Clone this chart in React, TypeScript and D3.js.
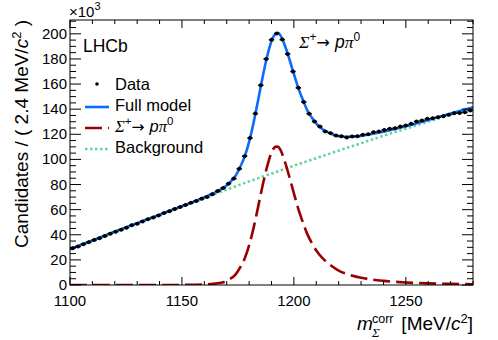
import * as d3 from 'd3';

// histogram: 75 bins of 2.4 MeV from 1100 to 1280, values in units of 10^3
const massMin = 1100;
const massMax = 1280;
const binWidth = 2.4;
const dataCounts = [
  29.2, 30.6, 32.5, 34.0, 35.8, 37.2, 39.0, 40.9, 42.4, 43.9, 45.6, 47.5, 48.8,
  50.6, 52.4, 53.8, 55.4, 57.3, 58.7, 60.6, 62.2, 63.6, 65.4, 66.9, 68.6,
  70.0, 72.2, 74.8, 77.2, 80.7, 84.7, 92.6, 102.6, 117.0, 136.5, 159.0, 180.0,
  195.2, 200.3, 195.4, 184.0, 170.0, 157.0, 145.8, 136.4, 130.2, 126.2, 122.2,
  120.9, 119.0, 118.5, 117.5, 118.3, 118.5, 119.6, 120.1, 121.7, 122.2, 123.5,
  124.4, 124.9, 126.2, 127.0, 128.3, 130.2, 131.0, 132.3, 132.8, 133.6, 134.4,
  135.5, 136.8, 137.0, 137.5, 138.9,
];

// fit model curves, sampled at these masses
const modelMass = [
  1100, 1110, 1120, 1130, 1140, 1150, 1155, 1160, 1164, 1168, 1171, 1174, 1176,
  1178, 1180, 1182, 1184, 1186, 1188, 1190, 1191, 1192, 1193, 1194, 1196, 1198,
  1200, 1202, 1204, 1206, 1208, 1210, 1213, 1216, 1220, 1225, 1230, 1240, 1250,
  1260, 1270, 1280,
];
const fullModel = [
  28.5, 35.5, 42.5, 49.25, 56.0, 62.75, 66.2, 69.9, 73.1, 76.7, 80.95, 87.1,
  93.9, 102.2, 114.0, 129.25, 147.0, 165.25, 181.5, 194.25, 198.2, 200.2, 200.6,
  198.75, 190.5, 179.75, 168.0, 156.7, 147.4, 139.1, 133.3, 128.5, 123.8, 120.9,
  118.5, 118.0, 118.7, 122.1, 126.5, 131.4, 136.5, 141.6,
];
const signalModel = [
  0, 0, 0, 0, 0, 0.05, 0.15, 0.4, 1.0, 2.0, 4.3, 8.5, 14.0, 21.0, 31.5, 45.5,
  62.0, 79.0, 94.0, 105.5, 108.8, 110.2, 110.0, 107.5, 98.0, 86.0, 73.0, 60.5,
  50.0, 40.5, 33.5, 27.5, 21.0, 16.3, 11.5, 8.0, 5.8, 3.3, 2.0, 1.3, 0.9, 0.6,
];
const backgroundModel = [
  28.5, 35.5, 42.5, 49.25, 56.0, 62.75, 66.1, 69.5, 72.1, 74.7, 76.65, 78.6,
  79.9, 81.2, 82.5, 83.75, 85.0, 86.25, 87.5, 88.75, 89.4, 90.0, 90.6, 91.25,
  92.5, 93.75, 95.0, 96.2, 97.4, 98.6, 99.8, 101.0, 102.8, 104.6, 107.0, 110.0,
  112.9, 118.8, 124.5, 130.1, 135.6, 141.0,
];

const xMajorTicks = [1100, 1150, 1200, 1250];
const yMajorTicks = [0, 20, 40, 60, 80, 100, 120, 140, 160, 180, 200];

const W = 498;
const H = 340;
const margin = { top: 20, right: 25, bottom: 55, left: 70 };
const sans = '"Liberation Sans", Arial, Helvetica, sans-serif';
const serif = '"Liberation Serif", "Times New Roman", serif';

const blue = '#0a6cff';
const red = '#990000';
const green = '#66d49c';

export default function App() {
  const x = d3.scaleLinear().domain([massMin, massMax]).range([margin.left, W - margin.right]);
  const y = d3.scaleLinear().domain([0, 211]).range([H - margin.bottom, margin.top]);
  const x0 = x.range()[0], x1 = x.range()[1];
  const y0 = y.range()[0], y1 = y.range()[1];

  const line = (vals: number[]) =>
    d3.line<number>()
      .x((_, i) => x(modelMass[i]))
      .y(d => y(d))
      .curve(d3.curveMonotoneX)(vals) || '';

  const xMinor = d3.range(massMin, massMax + 0.1, 10);
  const yMinor = d3.range(0, 211, 5);

  const points = dataCounts.map((v, i) => ({ m: massMin + (i + 0.5) * binWidth, v }));

  return (
    <svg width={W} height={H} style={{ position: 'absolute', left: 0, top: 0, background: '#fff' }}
      fontFamily={sans}>
      <defs>
        <clipPath id="plot-clip">
          <rect x={x0} y={y1} width={x1 - x0} height={y0 - y1} />
        </clipPath>
      </defs>

      {/* curves */}
      <g clipPath="url(#plot-clip)" fill="none">
        <path d={line(backgroundModel)} stroke={green} strokeWidth={2.6} strokeDasharray="2.5,2.5" />
        <path d={line(signalModel)} stroke={red} strokeWidth={2.6} strokeDasharray="17,6" />
        <path d={line(fullModel)} stroke={blue} strokeWidth={2.6} />
      </g>

      {/* data points */}
      <g>
        {points.map((p, i) => (
          <g key={i}>
            <line x1={x(p.m - binWidth / 2)} x2={x(p.m + binWidth / 2)} y1={y(p.v)} y2={y(p.v)}
              stroke="#000" strokeWidth={1.6} />
            <line x1={x(p.m)} x2={x(p.m)} y1={y(p.v) - 1.5} y2={y(p.v) + 1.5}
              stroke="#000" strokeWidth={1.2} />
            <circle cx={x(p.m)} cy={y(p.v)} r={2} fill="#000" />
          </g>
        ))}
      </g>

      {/* frame */}
      <rect x={x0} y={y1} width={x1 - x0} height={y0 - y1} fill="none" stroke="#000" strokeWidth={1} />

      {/* x ticks, bottom and top; y ticks, left and right */}
      <g stroke="#000" strokeWidth={1}>
        {xMinor.map(t => {
          const major = xMajorTicks.includes(t);
          const len = major ? 8 : 4;
          return (
            <g key={'x' + t}>
              <line x1={x(t)} x2={x(t)} y1={y0} y2={y0 - len} />
              <line x1={x(t)} x2={x(t)} y1={y1} y2={y1 + len} />
            </g>
          );
        })}
        {yMinor.map(t => {
          const major = t % 20 === 0;
          const len = major ? 11 : 6;
          return (
            <g key={'y' + t}>
              <line x1={x0} x2={x0 + len} y1={y(t)} y2={y(t)} />
              <line x1={x1} x2={x1 - len} y1={y(t)} y2={y(t)} />
            </g>
          );
        })}
      </g>

      {/* tick labels */}
      <g fontSize={15} fill="#000">
        {xMajorTicks.map(t => (
          <text key={t} x={x(t)} y={y0 + 21} textAnchor="middle">{t}</text>
        ))}
        {yMajorTicks.map(t => (
          <text key={t} x={x0 - 3} y={y(t) + 5} textAnchor="end">{t}</text>
        ))}
      </g>

      {/* exponent */}
      <text x={69} y={17} fontSize={15}>
        ×10<tspan fontSize={11} dy={-7}>3</tspan>
      </text>

      {/* axis titles */}
      <text transform={`translate(28, ${y1}) rotate(-90)`} textAnchor="end" fontSize={19}>
        Candidates / ( 2.4 MeV/<tspan fontStyle="italic">c</tspan>
        <tspan fontSize={13} dy={-7}>2</tspan><tspan dy={7}> )</tspan>
      </text>
      <text x={357} y={330} fontSize={19} fontStyle="italic">m</text>
      <text x={372} y={323} fontSize={12.5}>corr</text>
      <text x={372} y={337} fontSize={13} fontStyle="italic" fontFamily={serif}>Σ</text>
      <text x={473} y={330} fontSize={19} textAnchor="end">
        [MeV/<tspan fontStyle="italic">c</tspan><tspan fontSize={13} dy={-7}>2</tspan><tspan dy={7}>]</tspan>
      </text>

      {/* LHCb label */}
      <text x={83} y={52} fontSize={17.5}>LHCb</text>

      {/* decay annotation */}
      <text x={299} y={48} fontSize={17.5}>
        <tspan fontFamily={serif} fontStyle="italic">Σ</tspan>
        <tspan fontSize={12} dy={-7}>+</tspan>
        <tspan dy={7} fontFamily='"DejaVu Sans", sans-serif' fontSize={16}>→ </tspan>
        <tspan fontStyle="italic">p</tspan>
        <tspan fontFamily={serif} fontStyle="italic">π</tspan>
        <tspan fontSize={12} dy={-7}>0</tspan>
      </text>

      {/* legend */}
      <g fontSize={16.5}>
        <circle cx={97} cy={84} r={1.8} fill="#000" />
        <text x={115} y={90}>Data</text>

        <line x1={85} x2={109} y1={107} y2={107} stroke={blue} strokeWidth={2.6} />
        <text x={115} y={111}>Full model</text>

        <line x1={85} x2={109} y1={128} y2={128} stroke={red} strokeWidth={2.6} strokeDasharray="17,6" />
        <text x={115} y={132}>
          <tspan fontFamily={serif} fontStyle="italic">Σ</tspan>
          <tspan fontSize={11.5} dy={-7}>+</tspan>
          <tspan dy={7} fontFamily='"DejaVu Sans", sans-serif' fontSize={15.5}>→ </tspan>
          <tspan fontStyle="italic">p</tspan>
          <tspan fontFamily={serif} fontStyle="italic">π</tspan>
          <tspan fontSize={11.5} dy={-7}>0</tspan>
        </text>

        <line x1={85} x2={109} y1={149} y2={149} stroke={green} strokeWidth={2.6} strokeDasharray="2.5,2.5" />
        <text x={115} y={153}>Background</text>
      </g>
    </svg>
  );
}
